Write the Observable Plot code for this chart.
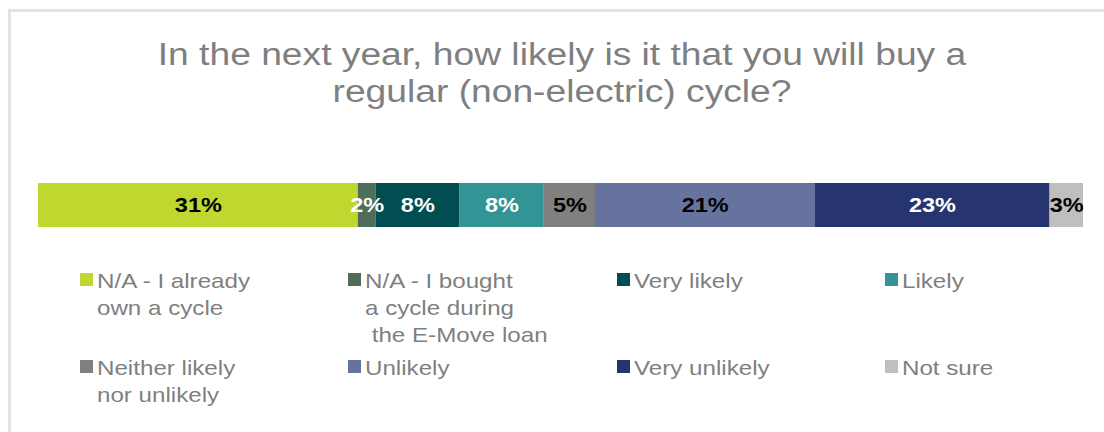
<!DOCTYPE html>
<html>
<head>
<meta charset="utf-8">
<script src="https://cdn.jsdelivr.net/npm/d3@7"></script>
<script src="https://cdn.jsdelivr.net/npm/@observablehq/plot@0.6"></script>
<style>
  html, body { margin: 0; padding: 0; background: #fff; }
  #wrap { position: relative; width: 1104px; height: 432px; overflow: hidden; font-family: "Liberation Sans", Arial, sans-serif; }
  #frame { position: absolute; left: 8px; top: 9px; right: 0; bottom: 0; border-left: 3px solid #e3e3e3; border-top: 3px solid #e3e3e3; }
  #title { position: absolute; left: 0; width: 1124px; top: 36px; text-align: center; font-size: 31px; line-height: 37px; color: #7f7f7f; transform: scaleX(1.2); transform-origin: 562px 0; }
  #chart { position: absolute; left: 0; top: 150px; }
  .item { position: absolute; font-size: 21px; line-height: 27px; color: #7f7f7f; white-space: pre; }
  .item span { display: inline-block; transform: scaleX(1.15); transform-origin: 0 0; }
  .sw { position: absolute; width: 13px; height: 13px; left: -17px; top: 6px; }
</style>
</head>
<body>
<div id="wrap">
  <div id="frame"></div>
  <div id="title">In the next year, how likely is it that you will buy a<br>regular (non-electric) cycle?</div>
  <div id="chart"></div>
  <div id="legend"></div>
</div>
<script>
const categories = ["N/A - I already own a cycle", "N/A - I bought a cycle during the E-Move loan", "Very likely", "Likely", "Neither likely nor unlikely", "Unlikely", "Very unlikely", "Not sure"];
const values = [30.6, 1.7, 8.0, 8.1, 4.9, 21.0, 22.5, 3.2];
const valueLabels = ["31%", "2%", "8%", "8%", "5%", "21%", "23%", "3%"];
const legendLabels = ["N/A - I already\nown a cycle", "N/A - I bought\na cycle during\n the E-Move loan", "Very likely", "Likely", "Neither likely\nnor unlikely", "Unlikely", "Very unlikely", "Not sure"];
const colors = ["#c0d72f", "#4f6e5a", "#004d52", "#339496", "#808080", "#66739f", "#263570", "#bfbfbf"];
const labelColors = ["#000", "#fff", "#fff", "#fff", "#000", "#000", "#fff", "#000"];

const data = categories.map((c, i) => ({category: c, value: values[i], label: valueLabels[i], lc: labelColors[i], row: "all"}));

const chart = Plot.plot({
  width: 1104,
  height: 110,
  marginLeft: 38,
  marginRight: 21,
  marginTop: 33,
  marginBottom: 33,
  x: {domain: [0, d3.sum(values)], axis: null},
  y: {axis: null, padding: 0},
  color: {domain: categories, range: colors},
  marks: [
    Plot.barX(data, Plot.stackX({x: "value", y: "row", fill: "category", order: null})),
    Plot.text(data, Plot.stackX({x: "value", y: "row", text: "label", fill: "lc", order: null,
      fontSize: 21, fontWeight: "bold", fontFamily: "'Liberation Sans', Arial, sans-serif"}))
  ]
});
// widen the value labels slightly to match the reference's wide glyphs
d3.select(chart).selectAll("g[aria-label=text] text").each(function () {
  const x = this.getAttribute("x");
  const t = this.getAttribute("transform") || "";
  if (x !== null) {
    this.setAttribute("transform", `${t} translate(${x},0) scale(1.12,1) translate(${-x},0)`);
  } else {
    this.setAttribute("transform", `${t} scale(1.12,1)`);
  }
});
document.getElementById("chart").appendChild(chart);

const legend = document.getElementById("legend");
const colX = [97, 365, 634, 902];
const rowY = [267, 354];
categories.forEach((c, i) => {
  const item = document.createElement("div");
  item.className = "item";
  item.style.left = colX[i % 4] + "px";
  item.style.top = rowY[Math.floor(i / 4)] + "px";
  const span = document.createElement("span");
  span.textContent = legendLabels[i];
  item.appendChild(span);
  const sw = document.createElement("div");
  sw.className = "sw";
  sw.style.background = colors[i];
  item.appendChild(sw);
  legend.appendChild(item);
});
</script>
</body>
</html>
